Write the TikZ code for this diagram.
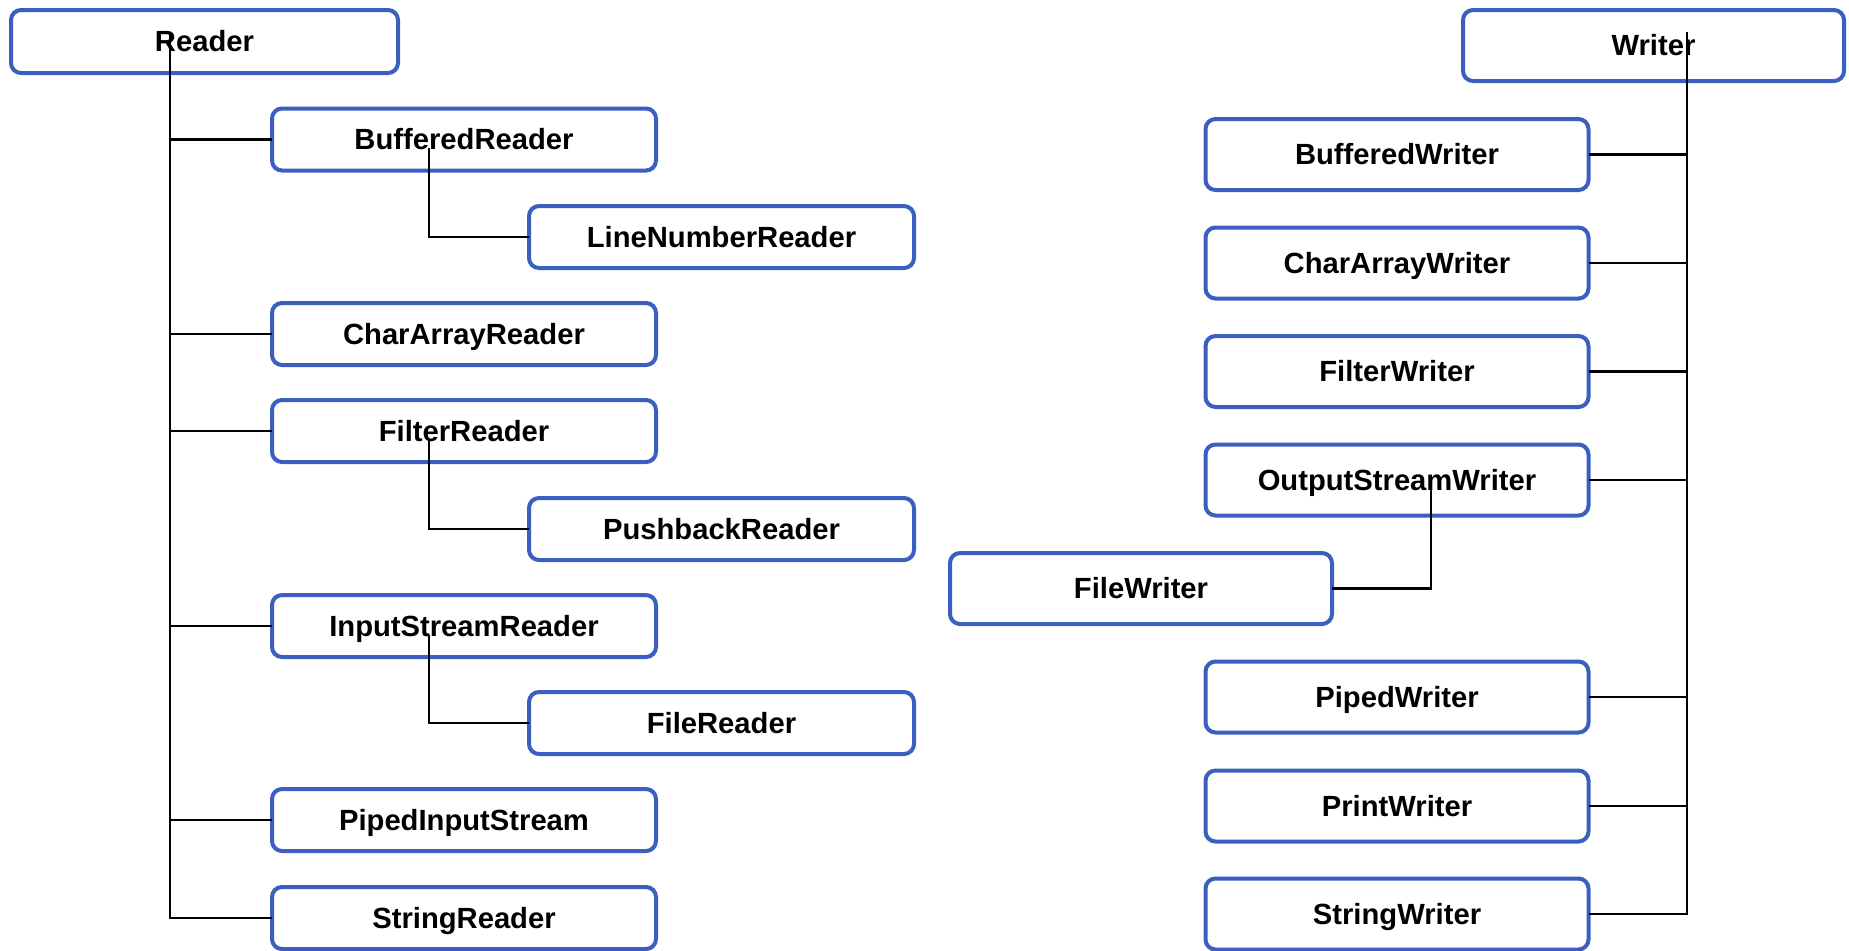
\documentclass[tikz,border=0pt]{standalone}
\usepackage{fontspec}
\setmainfont{Liberation Sans}
\usetikzlibrary{calc}
\definecolor{boxblue}{RGB}{59,94,193}
\begin{document}
\begin{tikzpicture}[x=0.5pt,y=-0.5pt,
  bx/.style={draw=boxblue, line width=2pt, rounded corners=5pt, fill=white,
    inner sep=0pt, outer sep=0pt, minimum width=192pt, minimum height=31pt,
    text height=10.5pt, text depth=0.3pt,
    font=\bfseries\fontsize{14.6}{17}\selectfont},
  rbx/.style={bx, minimum width=191.5pt, minimum height=35.5pt},
  conn/.style={draw=black, line width=1.3pt}]
\useasboundingbox (0,0) rectangle (1849,950);
% left tree
\node[bx, minimum width=193.5pt, minimum height=31.5pt] (reader) at (204.5,41.5) {Reader};
\node[bx] (bufr) at (464,139.5) {BufferedReader};
\node[bx, minimum width=192.5pt] (lnr) at (721.5,237) {LineNumberReader};
\node[bx] (car) at (464,334) {CharArrayReader};
\node[bx] (filr) at (464,431) {FilterReader};
\node[bx, minimum width=192.5pt] (pbr) at (721.5,529) {PushbackReader};
\node[bx] (isr) at (464,626) {InputStreamReader};
\node[bx, minimum width=192.5pt] (frd) at (721.5,723) {FileReader};
\node[bx] (pis) at (464,820) {PipedInputStream};
\node[bx] (sr) at (464,918) {StringReader};
% right tree
\node[rbx, minimum width=190.5pt] (writer) at (1653.5,45.5) {Writer};
\node[rbx] (bw) at (1397,154.5) {BufferedWriter};
\node[rbx] (caw) at (1397,263) {CharArrayWriter};
\node[rbx] (fiw) at (1397,371.5) {FilterWriter};
\node[rbx] (osw) at (1397,480) {OutputStreamWriter};
\node[rbx, minimum width=191pt] (fw) at (1141,588.5) {FileWriter};
\node[rbx] (pw) at (1397,697) {PipedWriter};
\node[rbx] (prw) at (1397,806) {PrintWriter};
\node[rbx] (sw) at (1397,914) {StringWriter};
% connector start points
\coordinate (rtop) at (170,32);
\coordinate (b1) at (429,148);
\coordinate (f1) at (429,440);
\coordinate (i1) at (429,635);
\coordinate (wtop) at (1687,32);
\coordinate (o1) at (1431,485);
% connectors
\foreach \n in {bufr,car,filr,isr,pis,sr} \draw[conn] (rtop) |- (\n.west);
\draw[conn] (b1) |- (lnr.west);
\draw[conn] (f1) |- (pbr.west);
\draw[conn] (i1) |- (frd.west);
\foreach \n in {bw,caw,fiw,osw,pw,prw,sw} \draw[conn] (wtop) |- (\n.east);
\draw[conn] (o1) |- (fw.east);
\end{tikzpicture}
\end{document}
